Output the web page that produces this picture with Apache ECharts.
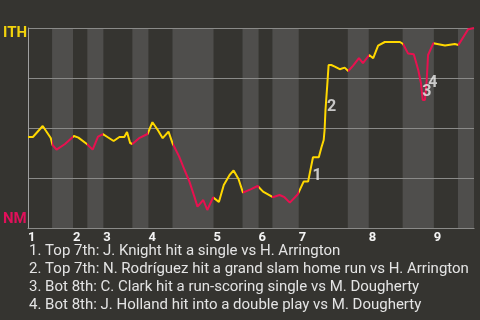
<!DOCTYPE html>
<html><head><meta charset="utf-8">
<script src="https://cdn.jsdelivr.net/npm/echarts@6/dist/echarts.min.js"></script>
<style>html,body{margin:0;padding:0;background:#353430;}#c{width:480px;height:320px;}</style>
</head><body><div id="c"></div>
<script>
// Game progress (0-100) where each half inning begins; last value = end of game
const halfStarts = [0, 5.4, 10.1, 13.3, 16.9, 23.4, 27.0, 32.4, 41.6, 48.1, 51.7, 54.8, 60.7, 71.7, 76.4, 84.0, 91.0, 96.4, 100];
const inningLabels = ['1','2','3','4','5','6','7','8','9'];
// ITH win probability path: [game progress, probability]
const winProb = [
 [0,0.455],[1.1,0.455],[3.3,0.51],[5.1,0.45],[5.5,0.415],
 [6.4,0.392],[8.3,0.42],[10.3,0.46],
 [11.3,0.452],[13.2,0.42],
 [14.5,0.392],[15.7,0.457],[16.8,0.469],
 [17.8,0.455],[19.2,0.435],[20.5,0.455],[21.6,0.455],[22.2,0.48],[22.9,0.425],
 [23.4,0.42],[24.9,0.449],[26.8,0.47],
 [27.9,0.529],[29.1,0.49],[30.2,0.449],[31.5,0.482],[32.4,0.424],
 [33.9,0.357],[35.1,0.29],[36.2,0.232],[37.3,0.157],[38.0,0.107],[39.3,0.14],[40.2,0.09],[41.5,0.153],
 [42.8,0.13],[43.9,0.215],[45.2,0.265],[46.1,0.288],[47.2,0.245],[48.2,0.177],
 [49.9,0.193],[51.5,0.21],
 [52.7,0.182],[54.9,0.154],
 [56.4,0.165],[57.5,0.154],[58.7,0.127],[60.5,0.169],
 [61.8,0.232],[62.8,0.232],[63.9,0.354],[65.2,0.354],[65.8,0.404],[66.3,0.44],[66.5,0.49],[66.7,0.59],[67.1,0.715],[67.4,0.815],[68.0,0.815],[68.8,0.807],[69.9,0.794],[71.0,0.802],[71.8,0.785],
 [72.9,0.812],[74.2,0.849],[75.1,0.824],[76.5,0.865],
 [77.4,0.849],[78.5,0.912],[80.0,0.93],[83.4,0.93],[84.1,0.92],
 [85.2,0.873],[86.5,0.869],[87.5,0.79],[88.1,0.725],[88.5,0.64],[89.0,0.64],[89.4,0.74],[89.7,0.865],[90.9,0.924],
 [91.2,0.927],[93.5,0.912],[95.7,0.92],[96.5,0.915],
 [98.7,0.994],[100,1.0]
];
// Key plays: [game progress, probability, label]
const keyPlays = [[62.8,0.232,'1'],[66.7,0.59,'2'],[89.0,0.64,'3'],[89.4,0.74,'4']];
const keyOffsets = [[9,-6],[6,-3],[2,-8],[6,3]];
const playTexts = [
 '1. Top 7th: J. Knight hit a single vs H. Arrington',
 '2. Top 7th: N. Rodríguez hit a grand slam home run vs H. Arrington',
 '3. Bot 8th: C. Clark hit a run-scoring single vs M. Dougherty',
 '4. Bot 8th: J. Holland hit into a double play vs M. Dougherty'
];
const teams = {top:'ITH', bottom:'NM'};

const YEL = '#ffd800', RED = '#e8104f';
const bands = [], pieces = [];
for (let i = 0; i < halfStarts.length - 1; i++) {
  const bottomHalf = i % 2 === 1;
  pieces.push({gte: halfStarts[i], lt: i === halfStarts.length - 2 ? 1000 : halfStarts[i+1], color: bottomHalf ? RED : YEL});
  if (bottomHalf) bands.push([{xAxis: halfStarts[i]}, {xAxis: halfStarts[i+1]}]);
}
const topStarts = halfStarts.filter((v, i) => i % 2 === 0 && i < halfStarts.length - 1);

const chart = echarts.init(document.getElementById('c'), null, {renderer: 'canvas'});
chart.setOption({
  backgroundColor: '#353430',
  animation: false,
  grid: {left: 28, right: 6, top: 28, bottom: 92},
  xAxis: {
    type: 'value', min: 0, max: 100,
    splitLine: {show: false},
    axisTick: {show: false},
    axisLine: {lineStyle: {color: '#a0a0a0', width: 1}},
    axisLabel: {
      customValues: topStarts, align: 'left', margin: 3,
      color: '#f4f4f4', fontFamily: 'Roboto', fontWeight: 'bold', fontSize: 13,
      formatter: v => inningLabels[topStarts.findIndex(s => Math.abs(s - v) < 1e-6)] || ''
    }
  },
  yAxis: {
    type: 'value', min: 0, max: 1, interval: 0.25, z: 2,
    axisLine: {show: true, lineStyle: {color: '#a0a0a0', width: 1}},
    axisTick: {show: false},
    axisLabel: {show: false},
    splitLine: {lineStyle: {color: '#8a8a88', width: 1}}
  },
  visualMap: {show: false, type: 'piecewise', dimension: 0, seriesIndex: 1, pieces: pieces},
  series: [
    {type: 'line', z: 1, data: [], silent: true,
     markArea: {silent: true, itemStyle: {color: '#4f4e4c'}, data: bands}},
    {type: 'line', z: 3, data: winProb, showSymbol: false, lineStyle: {width: 2}},
    {type: 'scatter', z: 4, symbolSize: 0,
     data: keyPlays.map((k, i) => ({value: [k[0], k[1]], label: {offset: keyOffsets[i]}})),
     label: {show: true, position: 'inside', formatter: p => keyPlays[p.dataIndex][2],
             color: '#eeeeee', fontFamily: 'Roboto', fontWeight: 'bold', fontSize: 16}}
  ],
  graphic: [
    {type: 'text', left: 3, top: 26, style: {text: teams.top, fill: '#f2d30c', font: 'bold 15px Roboto'}},
    {type: 'text', left: 3, top: 212, style: {text: teams.bottom, fill: '#e0105a', font: 'bold 15px Roboto'}}
  ].concat(playTexts.map((t, i) => ({
    type: 'text', left: 29, top: 244 + i * 18,
    style: {text: t, fill: '#e4e4e4', font: '15px Roboto'}
  })))
});
</script></body></html>
